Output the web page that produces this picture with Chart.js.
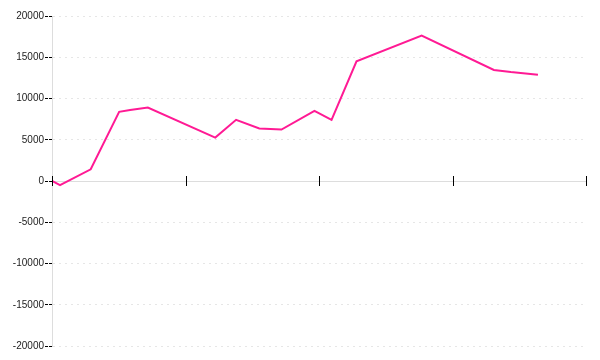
<!DOCTYPE html>
<html>
<head>
<meta charset="utf-8">
<script src="https://cdn.jsdelivr.net/npm/chart.js@4/dist/chart.umd.min.js"></script>
<style>
  html, body { margin: 0; padding: 0; background: #fff; }
  #wrap { width: 600px; height: 360px; }
</style>
</head>
<body>
<div id="wrap"><canvas id="lineChart"></canvas></div>
<script>
const xValues = [0, 6, 29, 50.3, 58.5, 71.8, 122.3, 137.9, 155.3, 171.9, 196.6, 209.4, 228.1, 276.9, 331, 343.7, 364];
const yValues = [0, -490, 1420, 8390, 8600, 8910, 5260, 7420, 6360, 6240, 8510, 7420, 14500, 17630, 13460, 13200, 12890];
const xTicks = [0, 100, 200, 300, 400];
const yMin = -20000, yMax = 20000, yStep = 5000;

const points = xValues.map((x, i) => ({ x: x, y: yValues[i] }));

// tick marks on the x axis cross the zero line
const crossTicks = {
    id: 'crossTicks',
    afterDraw(chart) {
        const xs = chart.scales.x, ys = chart.scales.y;
        const y0 = ys.getPixelForValue(0);
        const ctx = chart.ctx;
        ctx.save();
        ctx.strokeStyle = '#000';
        ctx.lineWidth = 1;
        xTicks.forEach(t => {
            const px = Math.round(xs.getPixelForValue(t)) + 0.5;
            ctx.beginPath();
            ctx.moveTo(px, y0 - 5);
            ctx.lineTo(px, y0 + 5);
            ctx.stroke();
        });
        ctx.restore();
    }
};

let lineData = {
    datasets: [{
        data: points,
        borderColor: '#ff1a94',
        borderWidth: 2,
        pointRadius: 0,
        tension: 0,
        fill: false
    }]
};

let lineOptions = {
    responsive: true,
    maintainAspectRatio: false,
    animation: false,
    layout: { padding: { top: 16, right: 14, bottom: 14, left: 0 } },
    plugins: {
        legend: { display: false },
        tooltip: { enabled: false }
    },
    scales: {
        x: {
            type: 'linear',
            min: 0,
            max: 400,
            position: { y: 0 },
            afterBuildTicks: scale => { scale.ticks = xTicks.map(v => ({ value: v })); },
            ticks: { display: false },
            grid: { display: true, drawOnChartArea: false, drawTicks: false },
            border: { color: '#dddddd', width: 1 }
        },
        y: {
            min: yMin,
            max: yMax,
            afterFit: scale => { scale.width = 52; },
            ticks: {
                stepSize: yStep,
                color: '#222',
                font: { family: 'Liberation Sans', size: 10 },
                padding: 1,
                callback: v => String(v)
            },
            grid: {
                color: '#e6e6e6',
                tickColor: '#000',
                tickLength: 7,
                tickBorderDash: [3, 1]
            },
            border: { color: '#dddddd', dash: [2, 4] }
        }
    }
};

let lineChart = new Chart(document.getElementById('lineChart'), {
    type: 'line',
    data: lineData,
    options: lineOptions,
    plugins: [crossTicks]
});
</script>
</body>
</html>
